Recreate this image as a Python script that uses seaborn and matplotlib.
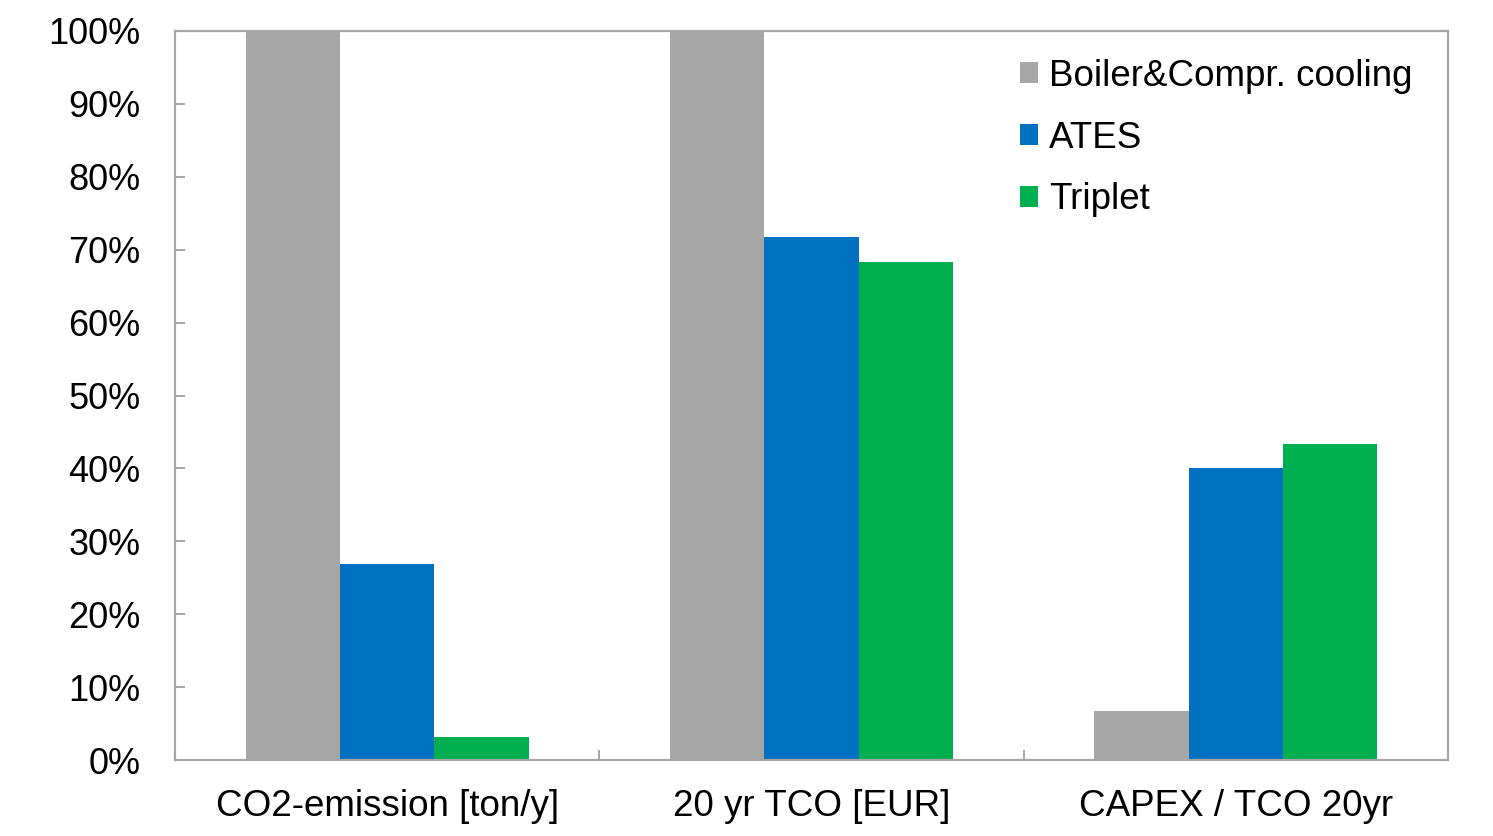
import matplotlib
matplotlib.use("Agg")
import matplotlib.pyplot as plt
from matplotlib.ticker import FixedLocator, PercentFormatter
import seaborn as sns
import pandas as pd

# Indicator categories and relative values (% of reference system)
categories = ["CO2-emission [ton/y]", "20 yr TCO [EUR]", "CAPEX / TCO 20yr"]
systems = ["Boiler&Compr. cooling", "ATES", "Triplet"]
boiler = [100.0, 100.0, 6.7]
ates = [26.9, 71.7, 40.1]
triplet = [3.2, 68.3, 43.3]
colors = ["#A6A6A6", "#0070C0", "#00B050"]

rows = []
for sys_name, vals in zip(systems, [boiler, ates, triplet]):
    for cat, v in zip(categories, vals):
        rows.append({"category": cat, "system": sys_name, "value": v})
df = pd.DataFrame(rows)

sns.set_theme(style="white")
plt.rcParams["font.family"] = ["Liberation Sans", "DejaVu Sans"]
plt.rcParams["text.color"] = "black"

fig = plt.figure(figsize=(14.93, 8.36), dpi=100)
ax = fig.add_axes([175 / 1493, 1 - 760 / 836, (1448 - 175) / 1493, (760 - 31) / 836])

sns.barplot(data=df, x="category", y="value", hue="system", order=categories,
            hue_order=systems, palette=colors, width=0.667, saturation=1,
            linewidth=0, ax=ax, errorbar=None)

ax.set_xlim(-0.5, 2.5)
ax.set_ylim(0, 100)
ax.set_xlabel("")
ax.set_ylabel("")

frame = "#A6A6A6"
for sp in ax.spines.values():
    sp.set_visible(True)
    sp.set_color(frame)
    sp.set_linewidth(1.6)

ax.yaxis.set_major_locator(FixedLocator(range(0, 101, 10)))
ax.yaxis.set_major_formatter(PercentFormatter(decimals=0))
ax.tick_params(axis="y", which="major", direction="in", length=7.5, width=1.4,
               color=frame, labelsize=26, pad=25, labelcolor="black", left=True)
ax.tick_params(axis="x", which="major", length=0, labelsize=26.5, pad=21,
               labelcolor="black")
ax.xaxis.set_minor_locator(FixedLocator([0.5, 1.5]))
ax.tick_params(axis="x", which="minor", direction="in", length=7.5, width=1.4,
               color=frame, bottom=True)

leg = ax.legend(loc="upper left", bbox_to_anchor=(0.664, 0.962), frameon=False,
                fontsize=26.5, handlelength=0.48, handleheight=0.48,
                handletextpad=0.3, labelspacing=0.73, borderpad=0,
                borderaxespad=0)
for t in leg.get_texts():
    t.set_color("black")

fig.savefig("out.png", dpi=100, facecolor="white")
